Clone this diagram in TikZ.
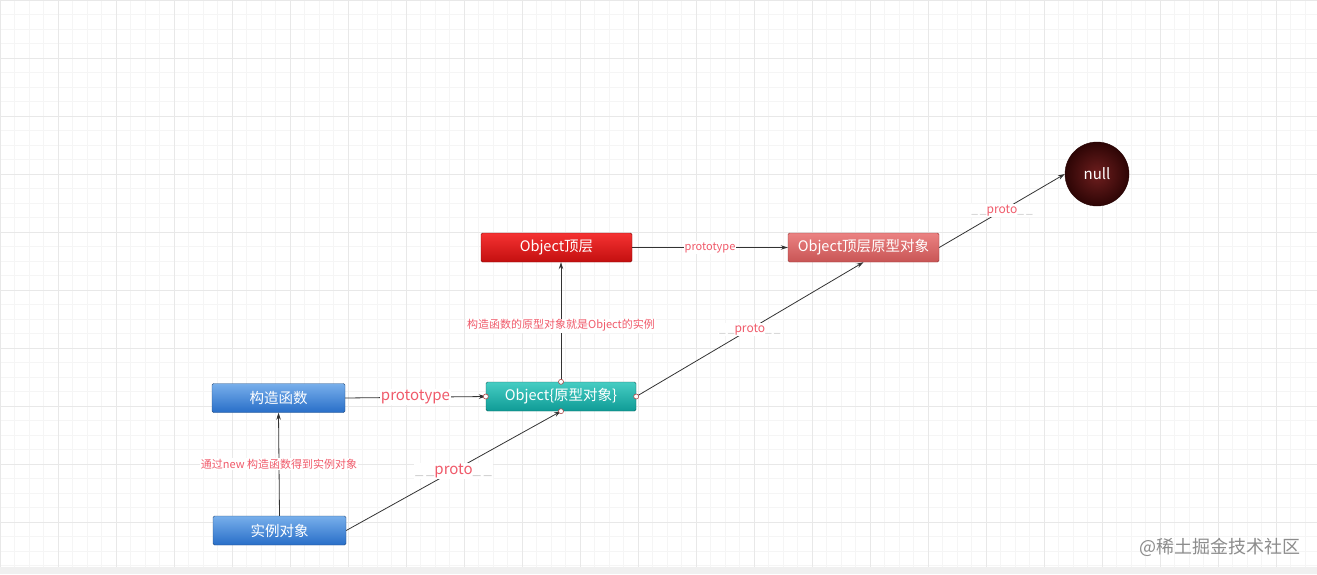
\documentclass[tikz,border=0pt]{standalone}
\usepackage{fontspec}
\setmainfont{Noto Sans CJK SC}
\usetikzlibrary{arrows.meta}
\definecolor{lbl}{HTML}{F05A6A}
\definecolor{usc}{HTML}{C8C8C8}
\definecolor{edge}{HTML}{333333}
\tikzset{
  box/.style={rectangle, rounded corners=1.5pt, minimum height=29pt, text=white, font=\fontsize{14.5}{16}\selectfont, inner sep=0pt},
  bluebox/.style={box, minimum width=133pt, top color={rgb,255:red,120;green,175;blue,235}, bottom color={rgb,255:red,40;green,110;blue,200}, draw={rgb,255:red,40;green,80;blue,130}},
  tealbox/.style={box, minimum width=150pt, top color={rgb,255:red,70;green,205;blue,195}, bottom color={rgb,255:red,15;green,155;blue,150}, draw={rgb,255:red,15;green,100;blue,95}},
  redbox/.style={box, minimum width=151pt, top color={rgb,255:red,245;green,50;blue,50}, bottom color={rgb,255:red,195;green,15;blue,15}, draw={rgb,255:red,130;green,15;blue,15}},
  pinkbox/.style={box, minimum width=151pt, top color={rgb,255:red,235;green,130;blue,130}, bottom color={rgb,255:red,200;green,85;blue,85}, draw={rgb,255:red,150;green,55;blue,55}},
  conn/.style={draw=edge, line width=0.8pt, -{Stealth[length=7pt,width=4.5pt]}},
  small/.style={text=lbl, font=\fontsize{11}{13}\selectfont, fill=white, inner sep=1pt},
  mid/.style={text=lbl, font=\fontsize{12}{14}\selectfont, fill=white, inner sep=1pt},
  big/.style={text=lbl, font=\fontsize{15}{17}\selectfont, fill=white, inner sep=1pt},
  port/.style={circle, draw={rgb,255:red,170;green,70;blue,70}, fill=white, line width=0.6pt, minimum size=5pt, inner sep=0pt},
}
\newcommand{\proto}{\textcolor{usc}{\_\,\_}proto\textcolor{usc}{\_\,\_}}
\begin{document}
\begin{tikzpicture}[x=1pt,y=-1pt]
\useasboundingbox (0,0) rectangle (1317,574);
\fill[white] (0,0) rectangle (1317,574);
% grid
\foreach \i in {0,...,91} {\draw[black!4, line width=0.5pt] (\i*14.5,0) -- (\i*14.5,574);}
\foreach \i in {0,...,39} {\draw[black!4, line width=0.5pt] (0,\i*14.5) -- (1317,\i*14.5);}
\foreach \i in {0,...,23} {\draw[black!9, line width=0.6pt] (\i*58,0) -- (\i*58,574);}
\foreach \i in {0,...,9} {\draw[black!9, line width=0.6pt] (0,\i*58) -- (1317,\i*58);}
\fill[black!6] (0,567) rectangle (1317,574);

% nodes
\node[bluebox] (ctor) at (278.5,398) {构造函数};
\node[bluebox] (inst) at (279.5,530.5) {实例对象};
\node[tealbox] (proto) at (561,396.5) {Object\{原型对象\}};
\node[redbox] (top) at (556.5,247.5) {Object顶层};
\node[pinkbox] (topproto) at (863.5,247.5) {Object顶层原型对象};
\node[circle, minimum size=64pt, inner sep=0pt, inner color={rgb,255:red,110;green,30;blue,30}, outer color={rgb,255:red,45;green,5;blue,5}, draw={rgb,255:red,40;green,5;blue,5}, text=white, font=\fontsize{15}{17}\selectfont] (null) at (1097,174) {null};

% connectors
\draw[conn] (inst.north) -- node[small] {通过new 构造函数得到实例对象} (ctor.south);
\draw[conn] (ctor.east) -- node[big] {prototype} (proto.west);
\draw[conn] (inst.east) -- node[big] {\proto} (proto.south);
\draw[conn] (proto.north) -- node[small, pos=0.47] {构造函数的原型对象就是Object的实例} (proto.north |- top.south);
\draw[conn] (proto.east) -- node[mid] {\proto} (topproto.south);
\draw[conn] (top.east) -- node[small] {prototype} (topproto.west);
\draw[conn] (topproto.east) -- node[mid] {\proto} (null.west);

% ports
\node[port] (p1) at (proto.north) {};
\node[port] (p2) at (proto.south) {};
\node[port] (p3) at (proto.west) {};
\node[port] (p4) at (proto.east) {};

% watermark
\node[text=black!45, font=\fontsize{18}{20}\selectfont] (wm) at (1220,547) {@稀土掘金技术社区};
\end{tikzpicture}
\end{document}
